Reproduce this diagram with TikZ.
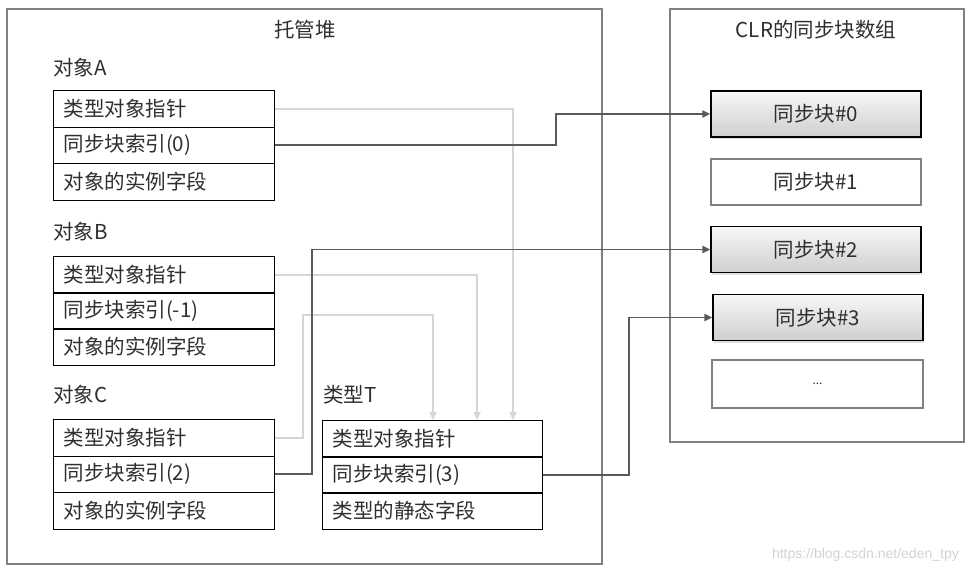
\documentclass[tikz,border=0pt]{standalone}
\usepackage{fontspec}
\setmainfont{Noto Sans CJK SC}
\newfontfamily\wmfont{Liberation Sans}
\usetikzlibrary{arrows.meta,shadows,calc}
\definecolor{txt}{HTML}{2E2E2E}
\definecolor{frame}{HTML}{808080}
\definecolor{darkline}{HTML}{5A5A5A}
\definecolor{lightline}{HTML}{D6D6D6}
\tikzset{
  big/.style={font=\fontsize{20.5}{24}\selectfont, text=txt},
  outerbox/.style={draw=frame, line width=2pt},
  row/.style={draw=black, line width=1pt, minimum width=221pt, minimum height=36.5pt,
              anchor=north west, text width=201pt, inner xsep=10pt, inner ysep=0pt, align=left, big},
  trow/.style={row, minimum width=220pt, text width=200pt},
  lbl/.style={anchor=west, inner sep=0pt, big},
  syncg/.style={draw=black, line width=1.2pt, minimum width=210pt, minimum height=46pt,
                top color=gray!6, bottom color=gray!38, big,
                drop shadow={opacity=0.25, shadow xshift=1pt, shadow yshift=-2pt}},
  syncw/.style={draw=frame, line width=2pt, minimum width=210pt, minimum height=46pt, fill=white, big},
  darkc/.style={draw=darkline, line width=1.8pt, -{Triangle[length=8pt,width=7pt]}},
  lightc/.style={draw=lightline, line width=1.8pt, -{Triangle[length=8pt,width=7pt]}},
}
\begin{document}
\begin{tikzpicture}[x=1pt,y=-1pt]
\useasboundingbox (0,0) rectangle (969,573);
% outer boxes
\draw[outerbox] (7,9) rectangle (602,564);
\draw[outerbox] (670,9) rectangle (964,442);
\node[big] (heap) at (305,30) {托管堆};
\node[big] (clr) at (816,30) {CLR的同步块数组};
% object A
\node[lbl] (la) at (53,68) {对象A};
\node[row] (a1) at (53,90) {类型对象指针};
\node[row] (a2) at (53,126.5) {同步块索引(0)};
\node[row] (a3) at (53,163) {对象的实例字段};
% object B
\node[lbl] (lb) at (53,232) {对象B};
\node[row] (b1) at (53,256) {类型对象指针};
\node[row] (b2) at (53,292) {同步块索引(-1)};
\node[row] (b3) at (53,328) {对象的实例字段};
% object C
\node[lbl] (lc) at (53,395) {对象C};
\node[row] (c1) at (53,419) {类型对象指针};
\node[row] (c2) at (53,455.5) {同步块索引(2)};
\node[row] (c3) at (53,492) {对象的实例字段};
% type T
\node[lbl] (lt) at (323,395) {类型T};
\node[trow] (t1) at (322,420) {类型对象指针};
\node[trow] (t2) at (322,456) {同步块索引(3)};
\node[trow] (t3) at (322,492) {类型的静态字段};
% sync blocks
\node[syncg] (s0) at (816,114) {同步块\#0};
\node[syncw] (s1) at (816,181.5) {同步块\#1};
\node[syncg] (s2) at (816,249.5) {同步块\#2};
\node[syncg] (s3) at (818,317.5) {同步块\#3};
\node[syncw, minimum width=211pt, minimum height=48pt, font=\fontsize{12}{14}\selectfont] (s4) at (817.5,384) {...};
% light connectors (type object pointers)
\draw[lightc] (a1.east) -| ($(t1.north west)+(191,0)$);
\draw[lightc] (b1.east) -| ($(t1.north west)+(155,0)$);
\draw[lightc] (c1.east) -- ++(28,0) |- ($(t1.north west)+(111,-105)$) -- ($(t1.north west)+(111,0)$);
% dark connectors (sync block indexes)
\draw[darkc] (a2.east) -- ++(281,0) |- (s0.west);
\draw[darkc] (c2.east) -- ++(37,0) |- (s2.west);
\draw[darkc] (t2.east) -- ++(86,0) |- (s3.west);
% watermark
\node[anchor=east, inner sep=0pt, text=gray!35, font=\wmfont\fontsize{14}{16}\selectfont] (wm) at (959,555) {https://blog.csdn.net/eden\_tpy};
\end{tikzpicture}
\end{document}
